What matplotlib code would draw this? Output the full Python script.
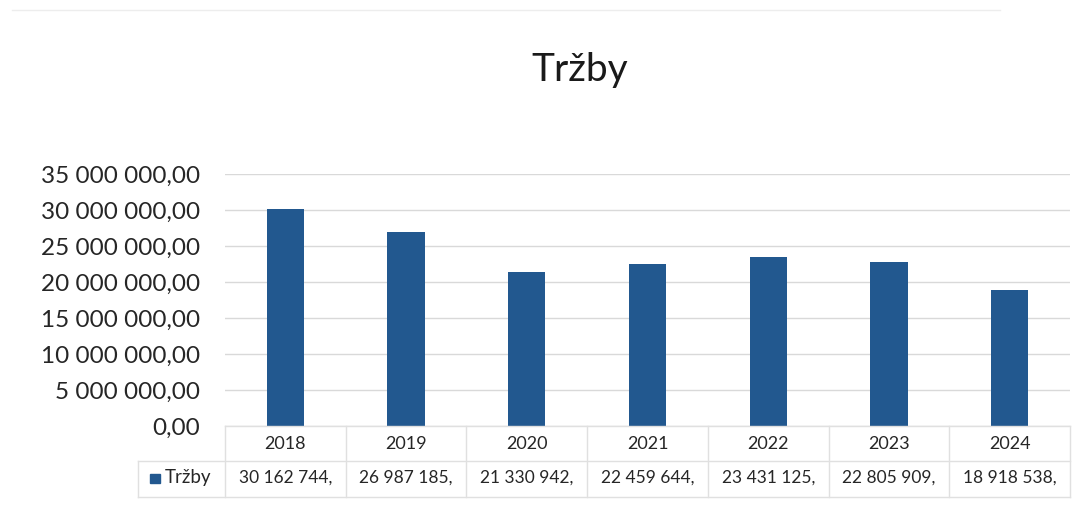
import matplotlib
matplotlib.use("Agg")
import matplotlib.pyplot as plt
from matplotlib.ticker import FuncFormatter, MultipleLocator
from matplotlib.lines import Line2D
from matplotlib.patches import Rectangle
import matplotlib.transforms as mtransforms

# Data
years = ["2018", "2019", "2020", "2021", "2022", "2023", "2024"]
revenue = [30162744, 26987185, 21330942, 22459644, 23431125, 22805909, 18918538]
series_name = "Tržby"
title = "Tržby"

bar_color = "#22588F"
grid_color = "#D9D9D9"
text_color = "#262626"

plt.rcParams["font.family"] = ["Lato", "DejaVu Sans"]

W, H = 1077, 529
fig = plt.figure(figsize=(W / 100, H / 100), dpi=100)

# plot area in pixel coordinates
left_px, right_px, top_px, bottom_px = 225, 1070, 174, 426
ax = fig.add_axes([left_px / W, 1 - bottom_px / H,
                   (right_px - left_px) / W, (bottom_px - top_px) / H])

x = list(range(len(years)))
ax.bar(x, revenue, width=0.31, color=bar_color, zorder=3)
ax.set_xlim(-0.5, len(years) - 0.5)
ax.set_ylim(0, 35_000_000)
ax.yaxis.set_major_locator(MultipleLocator(5_000_000))


def fmt_y(v, _pos):
    whole = f"{int(round(v)):,}".replace(",", " ")
    return f"{whole},00"


ax.yaxis.set_major_formatter(FuncFormatter(fmt_y))
ax.tick_params(axis="y", length=0, labelsize=17.5, pad=18, colors=text_color)
ax.tick_params(axis="x", length=0, labelbottom=False)
ax.grid(axis="y", color=grid_color, linewidth=1, zorder=0)
for s in ax.spines.values():
    s.set_visible(False)

# data table below the plot
trans = mtransforms.blended_transform_factory(ax.transData, fig.transFigure)


def fy(py):
    return 1 - py / H


row1_y, row2_y = 444, 478
table_lines_y = [426, 461, 497]
table_left_px = 138

line_kw = dict(color="#E0E0E0", linewidth=1)
for ly in table_lines_y:
    x0 = left_px if ly == table_lines_y[0] else table_left_px
    fig.add_artist(Line2D([x0 / W, right_px / W], [fy(ly), fy(ly)],
                          transform=fig.transFigure, **line_kw))
for i in range(len(years) + 1):
    xv = i - 0.5
    fig.add_artist(Line2D([xv, xv], [fy(table_lines_y[0]), fy(table_lines_y[-1])],
                          transform=trans, **line_kw))
fig.add_artist(Line2D([table_left_px / W] * 2, [fy(table_lines_y[1]), fy(table_lines_y[-1])],
                      transform=fig.transFigure, **line_kw))

for i, (yr, v) in enumerate(zip(years, revenue)):
    fig.text(i, fy(row1_y), yr, transform=trans, ha="center", va="center",
             fontsize=13, color=text_color)
    label = f"{int(v):,}".replace(",", " ") + ","
    fig.text(i, fy(row2_y), label, transform=trans, ha="center", va="center",
             fontsize=12.5, color=text_color)

# legend key inside the table
fig.add_artist(Rectangle((150 / W, fy(483)), 10 / W, 9 / H, transform=fig.transFigure,
                         color=bar_color))
fig.text(165 / W, fy(row2_y), series_name, ha="left", va="center",
         fontsize=13.5, color=text_color)

# title
fig.text(580 / W, fy(70), title, ha="center", va="center", fontsize=28, color="#1a1a1a")

# faint chart border
fig.add_artist(Line2D([12 / W, 1000 / W], [fy(10), fy(10)], transform=fig.transFigure,
                      color="#EDEDED", linewidth=1))

fig.savefig("out.png", dpi=100, facecolor="white")
